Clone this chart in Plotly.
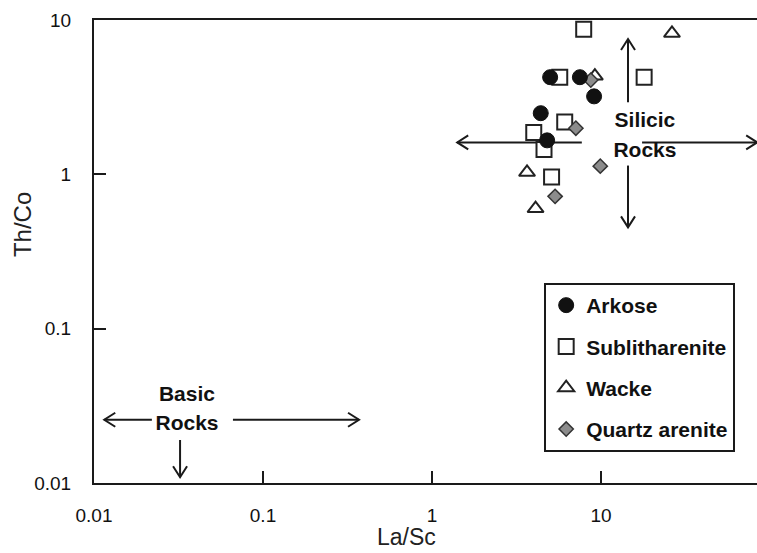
import numpy as np
import plotly.graph_objects as go

# ---------------- data ----------------
arkose_x = [5.0, 7.5, 9.1, 4.4, 4.8]
arkose_y = [4.26, 4.26, 3.2, 2.49, 1.66]
sub_x = [7.9, 5.7, 18.0, 6.1, 4.0, 4.6, 5.1]
sub_y = [8.7, 4.26, 4.26, 2.18, 1.87, 1.45, 0.96]
wacke_x = [26.3, 9.2, 3.65, 4.1]
wacke_y = [8.2, 4.33, 1.03, 0.60]
qa_x = [8.7, 7.1, 9.9, 5.35]
qa_y = [4.08, 1.99, 1.13, 0.72]

x_ticks = [0.01, 0.1, 1, 10]
x_ticktext = ["0.01", "0.1", "1", "10"]
y_ticks = [0.01, 0.1, 1, 10]
y_ticktext = ["0.01", "0.1", "1", "10"]

# field arrows (data units)
silicic_y = 1.61
silicic_h_segments = [(1.41, 7.7), (17.5, 84.0)]
silicic_vx = 14.45
silicic_v_segments = [(2.93, 7.53), (1.14, 0.453)]
basic_y = 0.0257
basic_h_segments = [(0.022, 0.0115), (0.0664, 0.37)]
basic_vx = 0.0323
basic_v_segments = [(0.019, 0.0109)]

# ---------------- layout geometry ----------------
W, H = 757, 553
ML, MR, MT, MB = 94, 0, 20, 70
XR = [-2, -2 + (W - ML - MR) / 169.0]
YR = [-2, 1]
PX_PER_X = (W - ML - MR) / (XR[1] - XR[0])
PX_PER_Y = (H - MT - MB) / (YR[1] - YR[0])

FONT = "Liberation Sans, Arial, sans-serif"
ARROW_COLOR = "#1a1a1a"


def arrow_xy(x0, y0, x1, y1, head_len=11, head_w=7):
    """Line from (x0,y0) to (x1,y1) with open chevron at (x1,y1), on log axes."""
    lx0, ly0, lx1, ly1 = map(np.log10, (x0, y0, x1, y1))
    dxp = (lx1 - lx0) * PX_PER_X
    dyp = (ly1 - ly0) * PX_PER_Y
    n = np.hypot(dxp, dyp)
    ux, uy = dxp / n, dyp / n
    px, py = -uy, ux
    pts = []
    for s in (1, -1):
        bx = lx1 + (-ux * head_len + s * px * head_w) / PX_PER_X
        by = ly1 + (-uy * head_len + s * py * head_w) / PX_PER_Y
        pts.append((10 ** bx, 10 ** by))
    xs = [x0, x1, None, pts[0][0], x1, pts[1][0]]
    ys = [y0, y1, None, pts[0][1], y1, pts[1][1]]
    return xs, ys


fig = go.Figure()

ax_all, ay_all = [], []
(a, b), (c, d) = silicic_h_segments
for (xa, xb) in [(b, a), (c, d)]:
    xs, ys = arrow_xy(xa, silicic_y, xb, silicic_y)
    ax_all += xs + [None]; ay_all += ys + [None]
for (ya, yb) in silicic_v_segments:
    xs, ys = arrow_xy(silicic_vx, ya, silicic_vx, yb)
    ax_all += xs + [None]; ay_all += ys + [None]
for (xa, xb) in basic_h_segments:
    xs, ys = arrow_xy(xa, basic_y, xb, basic_y)
    ax_all += xs + [None]; ay_all += ys + [None]
for (ya, yb) in basic_v_segments:
    xs, ys = arrow_xy(basic_vx, ya, basic_vx, yb)
    ax_all += xs + [None]; ay_all += ys + [None]

fig.add_trace(go.Scatter(x=ax_all, y=ay_all, mode="lines",
                         line=dict(color=ARROW_COLOR, width=2),
                         showlegend=False, hoverinfo="skip", cliponaxis=False))

# field labels
label_font = dict(family=FONT, size=21, color="#111", weight="bold")
fig.add_trace(go.Scatter(x=[18.2, 18.2, 0.0355, 0.0355],
                         y=[2.18, 1.40, 0.0365, 0.0239],
                         mode="text", text=["Silicic", "Rocks", "Basic", "Rocks"],
                         textfont=label_font, showlegend=False, hoverinfo="skip"))

# data series (drawing order: squares, triangles, diamonds, circles)
fig.add_trace(go.Scatter(x=sub_x, y=sub_y, mode="markers", name="Sublitharenite",
                         legendrank=2, legendgroup="b",
                         marker=dict(symbol="square", size=15, color="white",
                                     line=dict(color="#222", width=2))))
fig.add_trace(go.Scatter(x=wacke_x, y=wacke_y, mode="markers", name="Wacke",
                         legendrank=3, legendgroup="c",
                         marker=dict(symbol="triangle-up", size=14, color="white",
                                     line=dict(color="#222", width=2))))
fig.add_trace(go.Scatter(x=qa_x, y=qa_y, mode="markers", name="Quartz arenite",
                         legendrank=4, legendgroup="d",
                         marker=dict(symbol="diamond", size=11, color="#8c8c8c",
                                     line=dict(color="#333", width=1.5))))
fig.add_trace(go.Scatter(x=arkose_x, y=arkose_y, mode="markers", name="Arkose",
                         legendrank=1, legendgroup="a",
                         marker=dict(symbol="circle", size=15, color="#111",
                                     line=dict(color="#111", width=1))))

axis_common = dict(type="log", showgrid=False, zeroline=False,
                   showline=True, linecolor="#1a1a1a", linewidth=2,
                   ticks="inside", ticklen=12, tickwidth=2, tickcolor="#1a1a1a",
                   tickfont=dict(family=FONT, size=19, color="#111"))

fig.update_layout(
    width=W, height=H,
    margin=dict(l=ML, r=MR, t=MT, b=MB),
    paper_bgcolor="white", plot_bgcolor="white",
    xaxis=dict(axis_common, range=XR, tickvals=x_ticks, ticktext=x_ticktext,
               mirror=True, ticklabelstandoff=14),
    yaxis=dict(axis_common, range=YR, tickvals=y_ticks, ticktext=y_ticktext,
               ticklabelstandoff=17),
    showlegend=True,
    legend=dict(x=0.679, y=0.432, xanchor="left", yanchor="top",
                bgcolor="white", bordercolor="#1a1a1a", borderwidth=2,
                font=dict(family=FONT, size=21, color="#111", weight="bold"),
                tracegroupgap=11, itemsizing="trace", itemwidth=30),
    annotations=[
        dict(text="La/Sc", xref="paper", yref="paper", x=0.472, y=0, yshift=-54,
             xanchor="center", yanchor="middle", showarrow=False,
             font=dict(family=FONT, size=23, color="#222")),
        dict(text="Th/Co", xref="paper", yref="paper", x=0, xshift=-72, y=0.557,
             xanchor="center", yanchor="middle", showarrow=False, textangle=-90,
             font=dict(family=FONT, size=24, color="#222")),
    ],
)

fig.write_html("out.html")
